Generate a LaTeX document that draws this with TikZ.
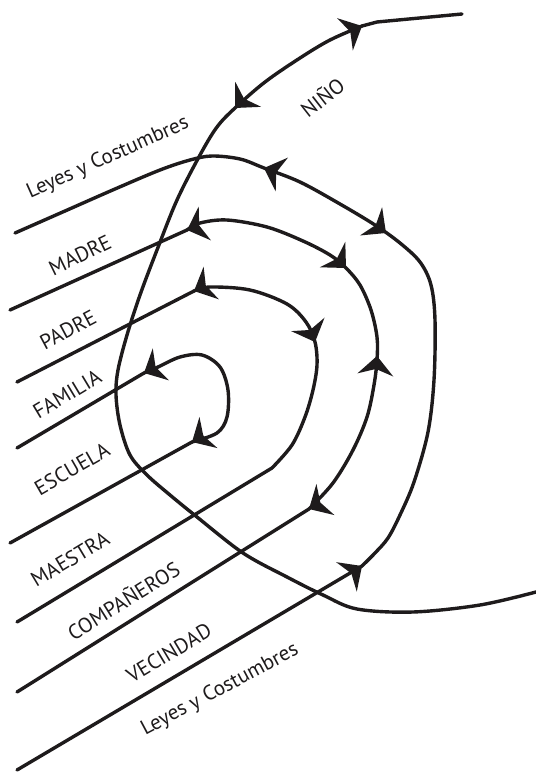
\documentclass[tikz,border=0pt]{standalone}
\usepackage{fontspec}
\setmainfont{PT Sans}
\definecolor{InkBlack}{RGB}{30, 27, 28}

% arrow head sitting on a path: tip point, heading (image angle, clockwise)
\newcommand{\tipat}[2]{\fill[flowtip, shift={(#1)}, rotate={-(#2)}] (0,0) -- (-19,-18) -- (-13,0) -- (-19,18) -- cycle;}

\begin{document}
\begin{tikzpicture}[x=1pt, y=-1pt,
    wire/.style={line width=3.4pt, draw=InkBlack, line cap=round, line join=round},
    flowtip/.style={fill=InkBlack},
    ctx/.style={font=\fontsize{21}{25}\selectfont, text=InkBlack, inner sep=0pt}]
  \useasboundingbox (0,0) rectangle (536,772);

  % Line starts and junctions
  \coordinate (sLeyesTop) at (15,233);
  \coordinate (sMadre) at (10,310);
  \coordinate (sPadre) at (17,382);
  \coordinate (sFamilia) at (17,448);
  \coordinate (sEscuela) at (10,543);
  \coordinate (sMaestra) at (17,622);
  \coordinate (sCompa) at (17,692);
  \coordinate (sLeyesBot) at (17,770);
  \coordinate (jMadre) at (187,230);
  \coordinate (jPadre) at (194,291);
  \coordinate (jFamilia) at (144,373);
  \coordinate (jEscuela) at (192,442);
  \coordinate (jMaestra) at (272,468);
  \coordinate (jCompa) at (309,509);
  \coordinate (jLeyesBot) at (362,566);
  \coordinate (ninoEnd) at (462,14);
  \coordinate (ninoBend) at (362,26);
  \coordinate (ninoExit) at (536,592);

  % Child path
  \draw[wire] (ninoEnd) -- (377,22) -- (ninoBend);
  \draw[wire] plot[smooth, tension=0.55] coordinates {(ninoBend) (330,40) (300,58) (265,82) (235,108)
    (217,127) (200,155) (177,200) (157,250) (140,295) (127,335) (118,370) (116,395) (120,425)
    (130,455) (147,475) (170,495) (197,517) (243,553) (287,577) (323,595) (357,609) (413,612)
    (480,605) (ninoExit)};
  \tipat{ninoBend}{-26}
  \tipat{235,108}{134}

  % Outer ring: Leyes y Costumbres
  \draw[wire] plot[smooth, tension=0.55] coordinates {(sLeyesTop) (65,211) (115,189) (160,170)
    (190,160) (212,156) (240,159) (264,168) (300,182) (340,204) (375,225) (400,243) (420,262)
    (431,285) (435,320) (434,380) (428,432) (414,482) (400,515) (388,538) (375,553) (jLeyesBot)};
  \draw[wire] (jLeyesBot) -- (sLeyesBot);
  \tipat{264,168}{200}
  \tipat{386,233}{38}
  \tipat{jLeyesBot}{-35}

  % Madre ring to companeros
  \draw[wire] (sMadre) -- (jMadre);
  \draw[wire] plot[smooth, tension=0.55] coordinates {(jMadre) (200,223) (227,220) (267,227)
    (303,241) (330,255) (346,268) (360,285) (371,310) (377,337) (377,360) (374,385) (367,417)
    (353,450) (333,483) (jCompa)};
  \draw[wire] (jCompa) -- (sCompa);
  \tipat{jMadre}{160}
  \tipat{346,268}{45}
  \tipat{377,356}{-85}
  \tipat{jCompa}{150}

  % Padre ring to maestra
  \draw[wire] (sPadre) -- (jPadre);
  \draw[wire] plot[smooth, tension=0.55] coordinates {(jPadre) (210,287) (250,290) (287,304)
    (306,322) (315,342) (317,365) (313,390) (305,417) (292,445) (jMaestra)};
  \draw[wire] (jMaestra) -- (sMaestra);
  \tipat{jPadre}{155}
  \tipat{315,342}{68}

  % Familia loop to escuela
  \draw[wire] (sFamilia) -- (jFamilia);
  \draw[wire] plot[smooth, tension=0.55] coordinates {(jFamilia) (158,367) (180,357) (202,355)
    (220,367) (228,390) (227,417) (217,433) (jEscuela)};
  \draw[wire] (jEscuela) -- (sEscuela);
  \tipat{jFamilia}{153}
  \tipat{jEscuela}{150}

  % Labels
  \node[ctx, rotate=24] (lblLeyesTop) at (108,158) {Leyes y Costumbres};
  \node[ctx, rotate=38] (lblNino) at (322,97) {NIÑO};
  \node[ctx, rotate=26] (lblMadre) at (80,255) {MADRE};
  \node[ctx, rotate=28] (lblPadre) at (68,330) {PADRE};
  \node[ctx, rotate=31] (lblFamilia) at (67,394) {FAMILIA};
  \node[ctx, rotate=30] (lblEscuela) at (72,469) {ESCUELA};
  \node[ctx, rotate=31] (lblMaestra) at (70,559) {MAESTRA};
  \node[ctx, rotate=32] (lblCompa) at (123,600) {COMPAÑEROS};
  \node[ctx, rotate=31] (lblVecindad) at (169,653) {VECINDAD};
  \node[ctx, rotate=28] (lblLeyesBot) at (220,690) {Leyes y Costumbres};
\end{tikzpicture}
\end{document}
